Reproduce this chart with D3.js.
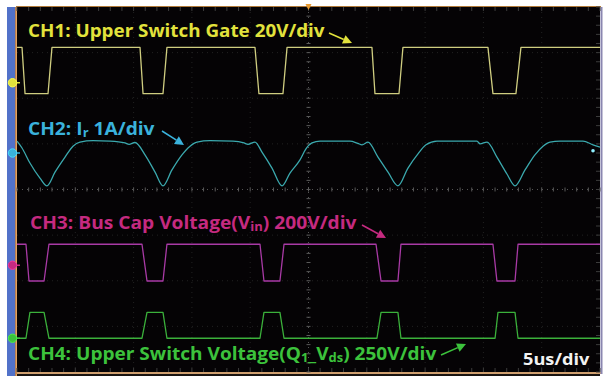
<!DOCTYPE html>
<html><head><meta charset="utf-8">
<script src="https://cdn.jsdelivr.net/npm/d3@7"></script>
<style>html,body{margin:0;padding:0;background:#fff;}svg{display:block;}</style>
</head><body>
<svg id="c" width="607" height="376"></svg>
<script>
// ---- data (time in µs, values in channel units) ----
const timebaseLabel = "5us/div";
const channelNames = ["CH1", "CH2", "CH3", "CH4"];
const channelScales = [20, 1, 200, 250];          // units per division
const channelPositions = [2.34, 0.80, -1.66, -3.26]; // ground marker position (div)

const ch1Time = [0, 0.43, 0.69, 2.66, 3.00, 10.55, 10.81, 12.52, 12.86, 20.41, 20.75, 22.81, 23.16, 30.44, 30.70, 32.76, 33.10, 40.39, 40.82, 42.79, 43.22, 50];
const ch1Volts = [15.5, 15.5, -4.8, -4.8, 15.5, 15.5, -4.8, -4.8, 15.5, 15.5, -4.8, -4.8, 15.5, 15.5, -4.8, -4.8, 15.5, 15.5, -4.8, -4.8, 15.5, 15.5];

const ch2Time = [0, 0.43, 1.11, 1.97, 2.57, 3.26, 4.12, 4.80, 5.40, 6.52, 7.98, 9.26, 9.61, 10.12, 10.98, 11.84, 12.52, 13.29, 14.15, 14.84, 15.44, 16.55, 18.52, 19.47, 19.81, 20.41, 21.01, 21.87, 22.73, 23.41, 24.27, 24.78, 25.30, 25.99, 28.56, 29.24, 29.59, 30.10, 30.96, 31.82, 32.67, 33.53, 34.39, 35.08, 36.02, 39.45, 39.71, 40.31, 41.16, 42.02, 42.71, 43.57, 44.42, 45.11, 45.71, 46.57, 48.54, 49.40, 50];
const ch2Amps = [0.26, 0.11, -0.22, -0.55, -0.72, -0.42, -0.09, 0.15, 0.24, 0.27, 0.26, 0.22, 0.19, 0.23, -0.04, -0.42, -0.72, -0.37, -0.04, 0.15, 0.24, 0.27, 0.26, 0.22, 0.19, 0.24, 0.02, -0.33, -0.72, -0.44, -0.15, 0.09, 0.22, 0.26, 0.26, 0.21, 0.18, 0.24, -0.09, -0.42, -0.72, -0.33, -0.02, 0.18, 0.26, 0.26, 0.20, 0.24, -0.09, -0.46, -0.72, -0.37, -0.04, 0.15, 0.24, 0.26, 0.26, 0.18, 0.13];

const ch3Time = [0, 0.77, 1.03, 2.32, 2.74, 10.72, 11.15, 12.52, 12.86, 20.84, 21.18, 22.55, 22.90, 30.79, 31.22, 32.67, 32.93, 40.82, 41.16, 42.71, 42.97, 50];
const ch3Volts = [92, 92, -69, -69, 92, 92, -69, -69, 92, 92, -69, -69, 92, 92, -69, -69, 92, 92, -69, -69, 92, 92];

const ch4Time = [0, 0.77, 1.11, 2.32, 2.74, 10.72, 11.15, 12.52, 12.86, 20.84, 21.18, 22.55, 22.90, 30.87, 31.22, 32.67, 32.93, 41.00, 41.25, 42.71, 42.97, 50];
const ch4Volts = [0, 0, 142, 142, 0, 0, 142, 142, 0, 0, 142, 142, 0, 0, 142, 142, 0, 0, 142, 142, 0, 0];

const traceColors = ["#cfcd80", "#3ba9ae", "#a93aa6", "#3bb03b"];
const labelColors = ["#e2e23c", "#3ab2dc", "#c52a80", "#3cc23c"];

// ---- layout ----
const svg = d3.select("#c");
const L = 17, R = 600, T = 7, B = 372;
const x = d3.scaleLinear().domain([0, 50]).range([L, R]);
const yDiv = d3.scaleLinear().domain([-4, 4]).range([B, T]);

// frame
svg.append("rect").attr("x", 7).attr("y", T).attr("width", 9).attr("height", 376 - T).attr("fill", "#5272c9");
svg.append("rect").attr("x", L).attr("y", T).attr("width", R - L).attr("height", B - T).attr("fill", "#050305");
svg.append("line").attr("x1", 16).attr("x2", 16).attr("y1", T).attr("y2", 376).attr("stroke", "#d8842e").attr("stroke-width", 1.5);
svg.append("line").attr("x1", 16).attr("x2", R + 1).attr("y1", T - 0.5).attr("y2", T - 0.5).attr("stroke", "#b07a3a").attr("stroke-width", 1);
svg.append("line").attr("x1", 16).attr("x2", R + 1).attr("y1", B + 1).attr("y2", B + 1).attr("stroke", "#c08040").attr("stroke-width", 1.5);
svg.append("rect").attr("x", L).attr("y", B + 2).attr("width", R - L).attr("height", 376 - B - 2).attr("fill", "#1a1410");
svg.append("line").attr("x1", R + 1.5).attr("x2", R + 1.5).attr("y1", T).attr("y2", B + 2).attr("stroke", "#8a86b0").attr("stroke-width", 2);

// graticule
const g = svg.append("g");
const xDivs = d3.range(0, 51, 5);
const yDivs = d3.range(-4, 5, 1);
g.selectAll(".vg").data(xDivs.slice(1, -1)).join("line")
  .attr("x1", d => x(d)).attr("x2", d => x(d)).attr("y1", T).attr("y2", B)
  .attr("stroke", d => d === 25 ? "#555" : "#222").attr("stroke-width", 1).attr("stroke-dasharray", "1,4");
g.selectAll(".hg").data(yDivs.slice(1, -1)).join("line")
  .attr("x1", L).attr("x2", R).attr("y1", d => yDiv(d)).attr("y2", d => yDiv(d))
  .attr("stroke", d => d === 0 ? "#555" : "#222").attr("stroke-width", 1).attr("stroke-dasharray", "1,4");
const minorX = d3.range(0, 50.01, 1);
const minorY = d3.range(-4, 4.01, 0.2);
g.selectAll(".tt").data(minorX).join("line")
  .attr("x1", d => x(d)).attr("x2", d => x(d)).attr("y1", T).attr("y2", T + 4)
  .attr("stroke", "#3c3c3c");
g.selectAll(".bt").data(minorX).join("line")
  .attr("x1", d => x(d)).attr("x2", d => x(d)).attr("y1", B - 4).attr("y2", B)
  .attr("stroke", "#3c3c3c");
g.selectAll(".ct").data(minorX).join("line")
  .attr("x1", d => x(d)).attr("x2", d => x(d)).attr("y1", yDiv(0) - 2).attr("y2", yDiv(0) + 2)
  .attr("stroke", "#5a5a5a");
g.selectAll(".cv").data(minorY).join("line")
  .attr("x1", x(25) - 2).attr("x2", x(25) + 2).attr("y1", d => yDiv(d)).attr("y2", d => yDiv(d))
  .attr("stroke", "#5a5a5a");
g.selectAll(".rt").data(minorY).join("line")
  .attr("x1", R - 4).attr("x2", R).attr("y1", d => yDiv(d)).attr("y2", d => yDiv(d))
  .attr("stroke", "#3c3c3c");

// traces
const series = [
  {t: ch1Time, v: ch1Volts},
  {t: ch2Time, v: ch2Amps},
  {t: ch3Time, v: ch3Volts},
  {t: ch4Time, v: ch4Volts}
];
series.forEach((s, i) => {
  const sc = channelScales[i], p = channelPositions[i];
  const y = d3.scaleLinear().domain([(-4 - p) * sc, (4 - p) * sc]).range([B, T]);
  const pts = s.t.map((t, k) => [t, s.v[k]]);
  const line = d3.line().x(d => x(d[0])).y(d => y(d[1])).curve(i === 1 ? d3.curveMonotoneX : d3.curveLinear);
  svg.append("path").datum(pts).attr("d", line).attr("fill", "none")
    .attr("stroke", traceColors[i]).attr("stroke-width", 1.3).attr("stroke-linejoin", "round");
  // ground marker
  const gy = y(0);
  svg.append("line").attr("x1", 14).attr("x2", 20).attr("y1", gy).attr("y2", gy)
    .attr("stroke", labelColors[i]).attr("stroke-width", 1.5);
  svg.append("circle").attr("cx", 12.5).attr("cy", gy).attr("r", 4.2)
    .attr("fill", labelColors[i]).attr("stroke", d3.color(labelColors[i]).brighter(0.6)).attr("stroke-width", 1);
});
// CH2 end-of-trace marker
{
  const y2 = d3.scaleLinear().domain([(-4 - channelPositions[1]) * channelScales[1], (4 - channelPositions[1]) * channelScales[1]]).range([B, T]);
  svg.append("circle").attr("cx", x(49.4)).attr("cy", y2(0.05)).attr("r", 1.8).attr("fill", "#8ff0ff");
}
// trigger marker
svg.append("path").attr("d", `M${x(25) - 3},${T - 3} L${x(25) + 3},${T - 3} L${x(25)},${T + 3} Z`).attr("fill", "#e89a30");

// labels
const font = "'Open Sans', sans-serif";
function fit(t, x0, target) {
  const w = t.node().getBBox().width;
  const s = target / w;
  t.attr("transform", `translate(${x0},0) scale(${s},1) translate(${-x0},0)`);
}
function label(xp, yp, parts, color, size, target) {
  const t = svg.append("text").attr("x", xp).attr("y", yp).attr("fill", color)
    .attr("font-family", font).attr("font-weight", 700).attr("font-size", size);
  parts.forEach(p => {
    const ts = t.append("tspan").text(p.s);
    if (p.sub) ts.attr("font-size", size * 0.68).attr("dy", 2);
    if (p.up) ts.attr("dy", -2);
  });
  fit(t, xp, target);
  return t;
}
label(28, 37, [{s: channelNames[0] + ": Upper Switch Gate 20V/div"}], labelColors[0], 17, 297);
label(28, 135, [{s: channelNames[1] + ": I"}, {s: "r", sub: true}, {s: " 1A/div", up: true}], labelColors[1], 17, 127);
label(30, 229, [{s: channelNames[2] + ": Bus Cap Voltage(V"}, {s: "in", sub: true}, {s: ") 200V/div", up: true}], labelColors[2], 17, 327);
label(28, 360, [{s: channelNames[3] + ": Upper Switch Voltage(Q"}, {s: "1", sub: true}, {s: "_V", up: true}, {s: "ds", sub: true}, {s: ") 250V/div", up: true}], labelColors[3], 17, 409);
const tb = svg.append("text").attr("x", 523).attr("y", 365).attr("fill", "#f2f2f2")
  .attr("font-family", font).attr("font-weight", 700).attr("font-size", 16.5).text(timebaseLabel);
fit(tb, 523, 67);

// arrows
function arrow(x1, y1, x2, y2, color) {
  const ang = Math.atan2(y2 - y1, x2 - x1);
  const hl = 9, hw = 4.5;
  const bx = x2 - hl * Math.cos(ang), by = y2 - hl * Math.sin(ang);
  svg.append("line").attr("x1", x1).attr("y1", y1).attr("x2", bx).attr("y2", by)
    .attr("stroke", color).attr("stroke-width", 1.6);
  const px = -Math.sin(ang) * hw, py = Math.cos(ang) * hw;
  svg.append("path").attr("d", `M${x2},${y2} L${bx + px},${by + py} L${bx - px},${by - py} Z`).attr("fill", color);
}
arrow(329, 33, 352, 43, labelColors[0]);
arrow(162, 131, 184, 145, labelColors[1]);
arrow(362, 225, 386, 238, labelColors[2]);
arrow(441, 355, 466, 344, labelColors[3]);
</script>
</body></html>
